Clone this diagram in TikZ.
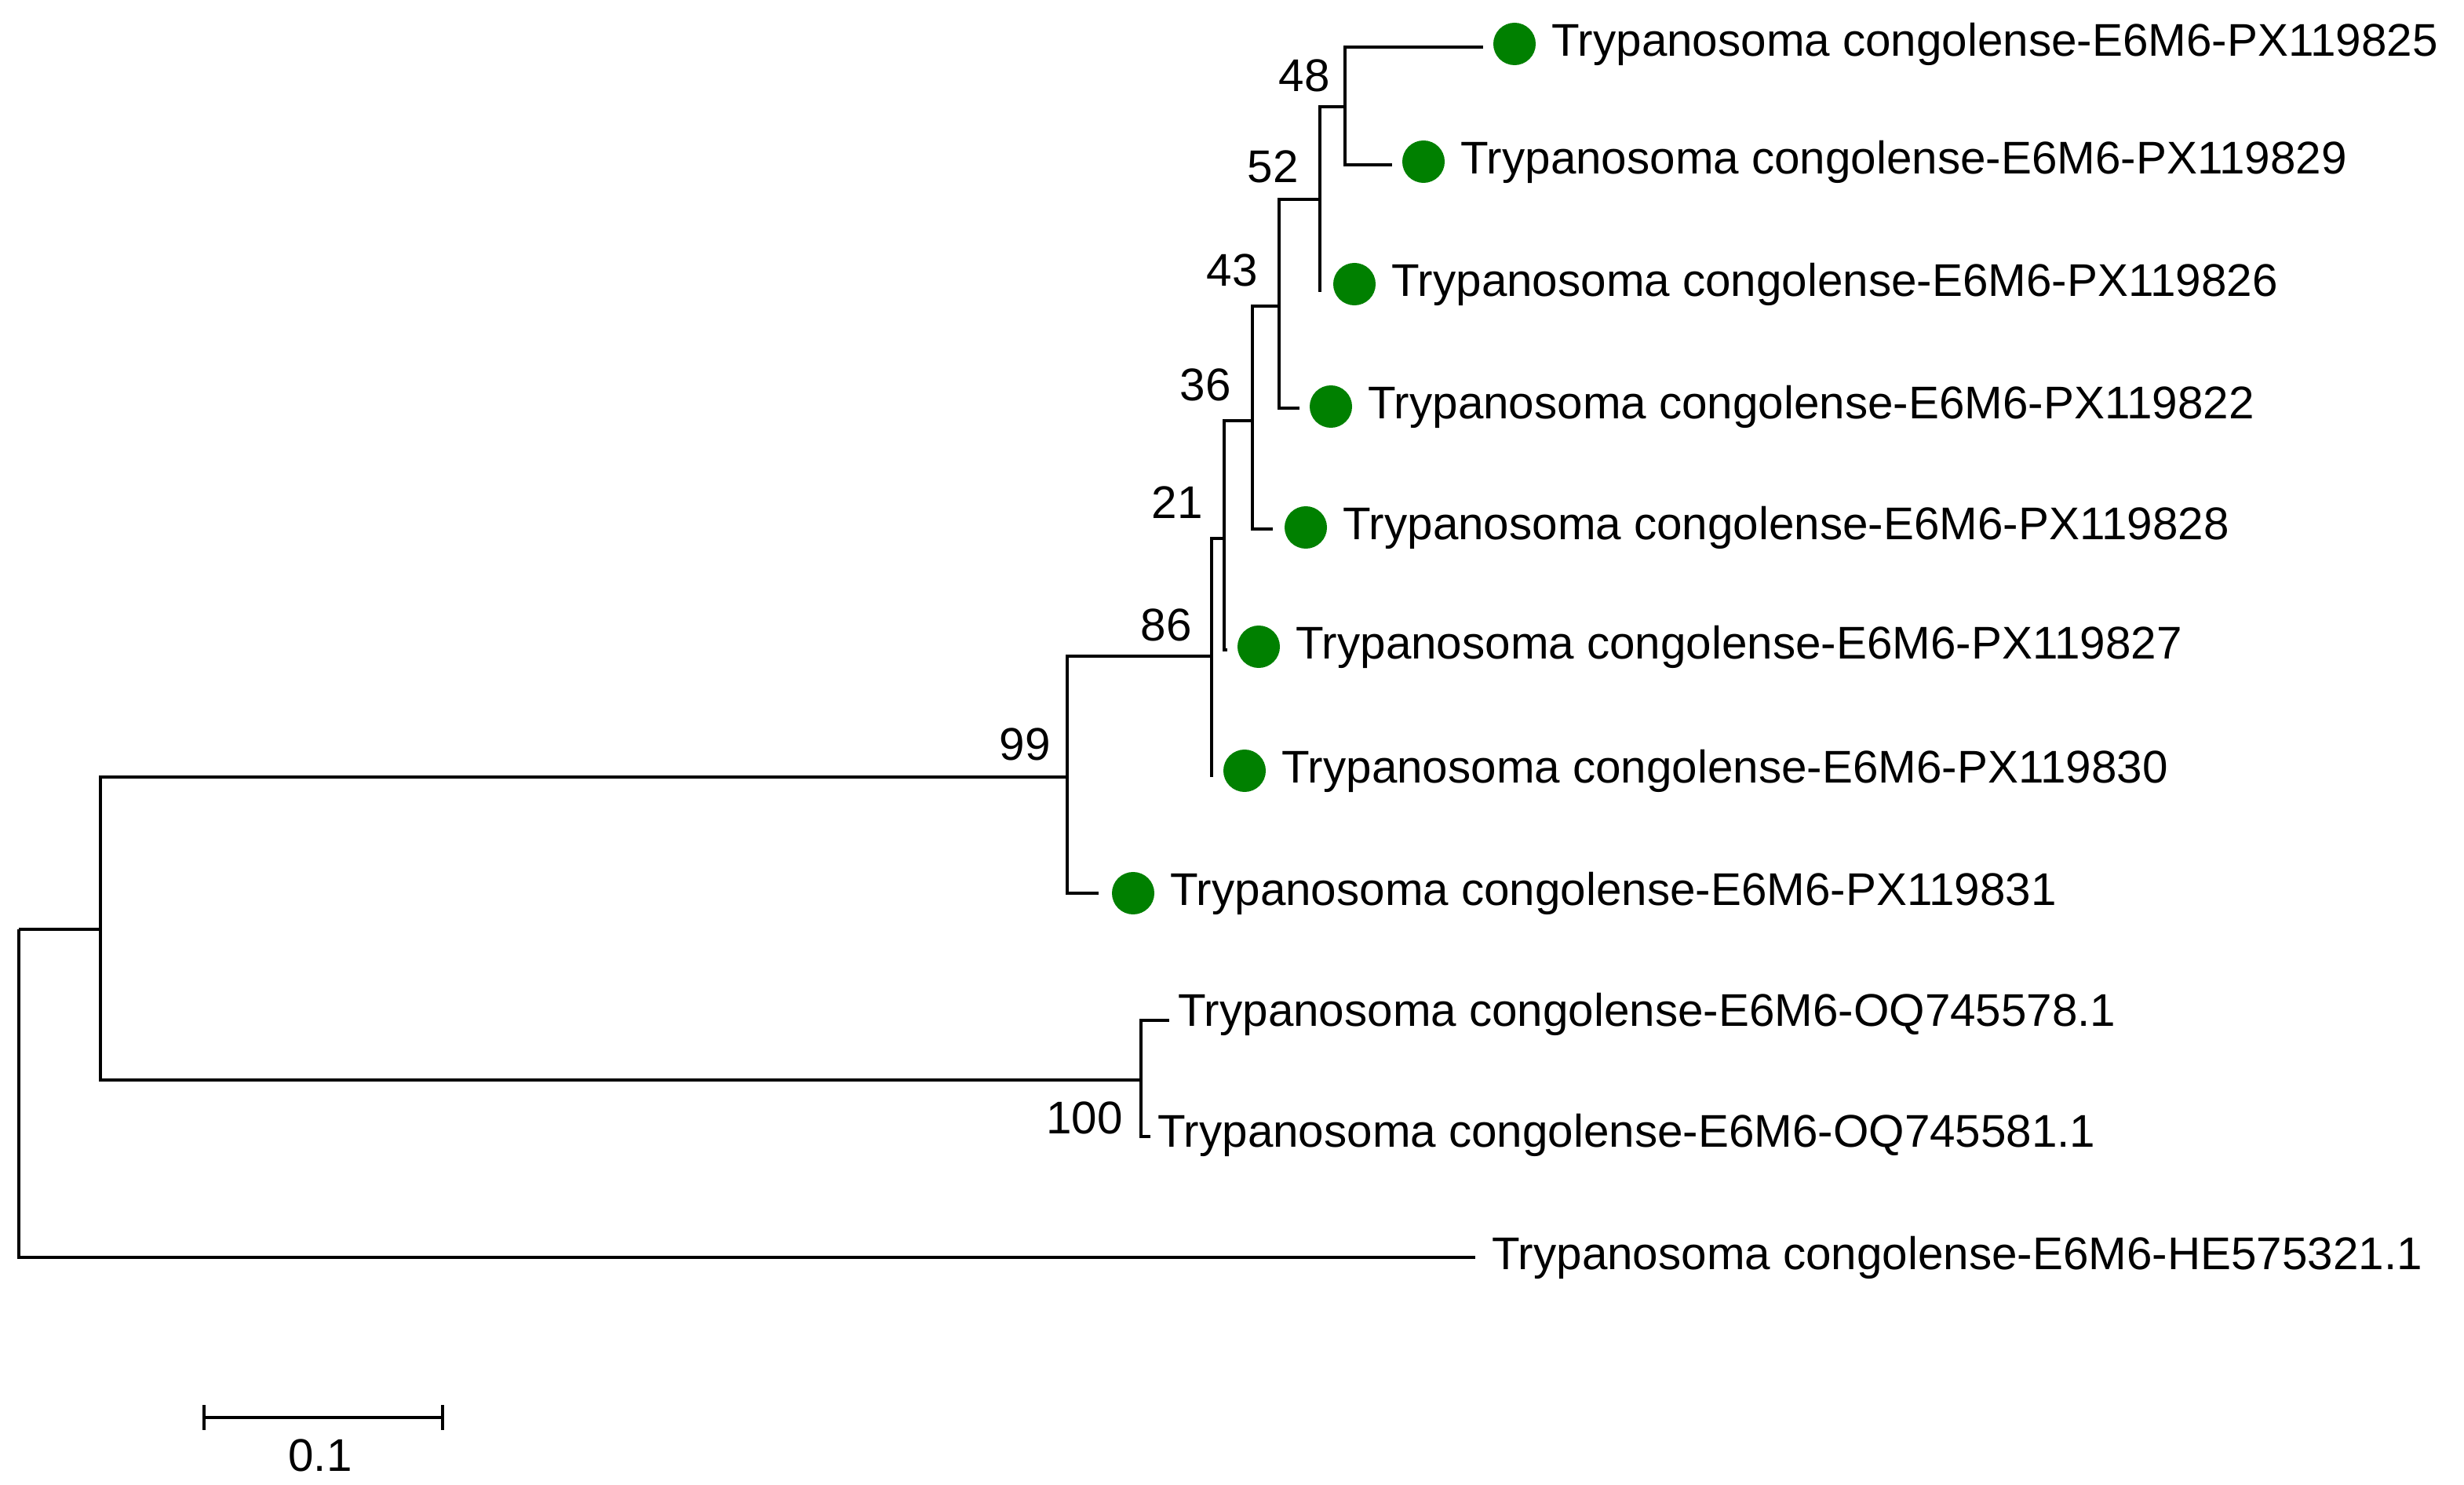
\documentclass[tikz,border=0pt]{standalone}
\usepackage{fontspec}
\setmainfont{Liberation Sans}
\begin{document}
\begin{tikzpicture}[x=0.01cm,y=-0.01cm,
  br/.style={line width=0.65pt,black},
  dot/.style={circle,fill=green!50!black,inner sep=0pt,minimum size=0.27cm},
  lab/.style={anchor=west,inner sep=0pt,font=\fontsize{8.3}{10}\selectfont},
  bs/.style={anchor=south east,inner sep=0pt,font=\fontsize{8.3}{10}\selectfont}]
\useasboundingbox (0,0) rectangle (1570,946);
% internal nodes
\coordinate (r) at (12,592);
\coordinate (a) at (64,592);
\coordinate (n99) at (680,495);
\coordinate (n100) at (727,688);
\coordinate (n86) at (772,418);
\coordinate (n21) at (780,343);
\coordinate (n36) at (798,268);
\coordinate (n43) at (815,195);
\coordinate (n52) at (841,127);
\coordinate (n48) at (857,68);
% leaf ends
\coordinate (e825) at (945,30);
\coordinate (e829) at (887,105);
\coordinate (e826) at (841,186);
\coordinate (e822) at (828,260);
\coordinate (e828) at (811,337);
\coordinate (e827) at (782,414);
\coordinate (e830) at (772,495);
\coordinate (e831) at (700,569);
\coordinate (e578) at (745,650);
\coordinate (e581) at (733,724);
\coordinate (eHE) at (940,801);
% dots
\node[dot] (d825) at (965,28) {};
\node[dot] (d829) at (907,103) {};
\node[dot] (d826) at (863,181) {};
\node[dot] (d822) at (848,259) {};
\node[dot] (d828) at (832,336) {};
\node[dot] (d827) at (802,412) {};
\node[dot] (d830) at (793,491) {};
\node[dot] (d831) at (722,569) {};
% labels
\node[lab] (t825) at (988,28) {Trypanosoma congolense-E6M6-PX119825};
\node[lab] (t829) at (930,103) {Trypanosoma congolense-E6M6-PX119829};
\node[lab] (t826) at (886,181) {Trypanosoma congolense-E6M6-PX119826};
\node[lab] (t822) at (871,259) {Trypanosoma congolense-E6M6-PX119822};
\node[lab] (t828) at (855,336) {Trypanosoma congolense-E6M6-PX119828};
\node[lab] (t827) at (825,412) {Trypanosoma congolense-E6M6-PX119827};
\node[lab] (t830) at (816,491) {Trypanosoma congolense-E6M6-PX119830};
\node[lab] (t831) at (745,569) {Trypanosoma congolense-E6M6-PX119831};
\node[lab] (t578) at (750,646) {Trypanosoma congolense-E6M6-OQ745578.1};
\node[lab] (t581) at (737,723) {Trypanosoma congolense-E6M6-OQ745581.1};
\node[lab] (tHE) at (950,801) {Trypanosoma congolense-E6M6-HE575321.1};
% branches
\draw[br] (r) |- (eHE);
\draw[br] (r) -- (a);
\draw[br] (a) |- (n99);
\draw[br] (a) |- (n100);
\draw[br] (n100) |- (e578);
\draw[br] (n100) |- (e581);
\draw[br] (n99) |- (n86);
\draw[br] (n99) |- (e831);
\draw[br] (n86) |- (n21);
\draw[br] (n86) -- (e830);
\draw[br] (n21) |- (n36);
\draw[br] (n21) |- (e827);
\draw[br] (n36) |- (n43);
\draw[br] (n36) |- (e828);
\draw[br] (n43) |- (n52);
\draw[br] (n43) |- (e822);
\draw[br] (n52) |- (n48);
\draw[br] (n52) -- (e826);
\draw[br] (n48) |- (e825);
\draw[br] (n48) |- (e829);
% bootstrap
\node[anchor=east,inner sep=0pt,font=\fontsize{8.3}{10}\selectfont] (b48) at (848,48) {48};
\node[anchor=east,inner sep=0pt,font=\fontsize{8.3}{10}\selectfont] (b52) at (828,106) {52};
\node[anchor=east,inner sep=0pt,font=\fontsize{8.3}{10}\selectfont] (b43) at (802,172) {43};
\node[anchor=east,inner sep=0pt,font=\fontsize{8.3}{10}\selectfont] (b36) at (785,245) {36};
\node[anchor=east,inner sep=0pt,font=\fontsize{8.3}{10}\selectfont] (b21) at (767,320) {21};
\node[anchor=east,inner sep=0pt,font=\fontsize{8.3}{10}\selectfont] (b86) at (760,398) {86};
\node[anchor=east,inner sep=0pt,font=\fontsize{8.3}{10}\selectfont] (b99) at (670,474) {99};
\node[anchor=east,inner sep=0pt,font=\fontsize{8.3}{10}\selectfont] (b100) at (716,712) {100};
% scale bar
\coordinate (s1) at (130,903);
\coordinate (s2) at (282,903);
\draw[br] (s1) -- (s2);
\draw[br] (130,895) -- (130,911);
\draw[br] (282,895) -- (282,911);
\node[inner sep=0pt,font=\fontsize{8.3}{10}\selectfont] (sl) at (204,927) {0.1};
\end{tikzpicture}
\end{document}
